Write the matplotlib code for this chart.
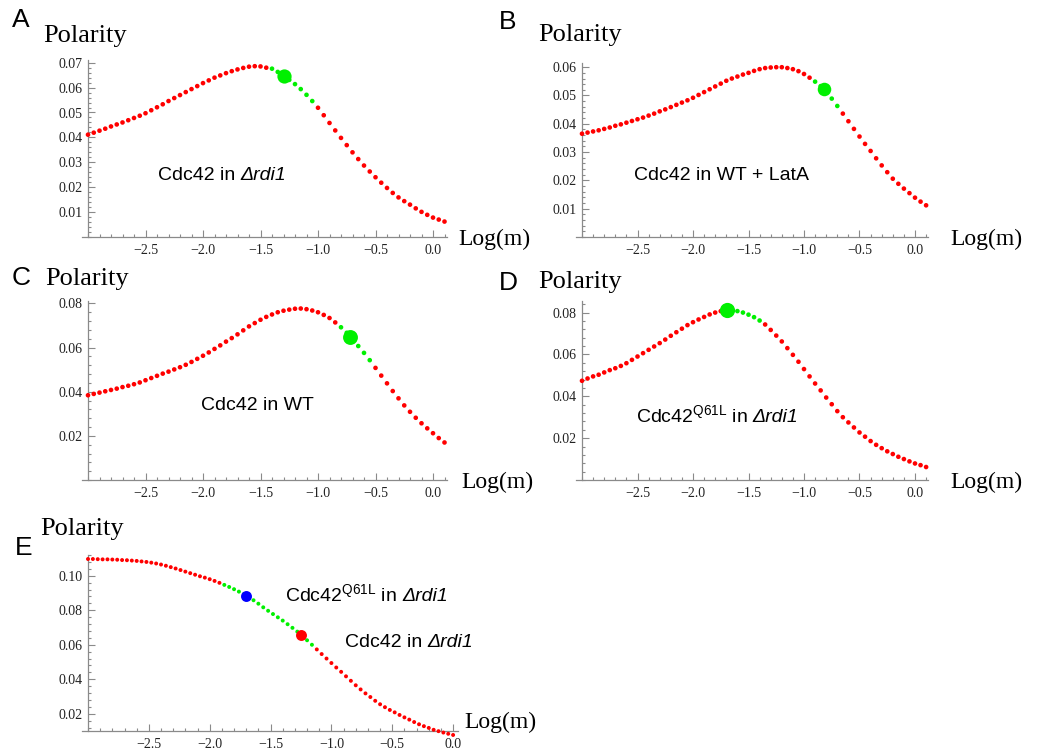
import matplotlib
matplotlib.use("Agg")
import matplotlib.pyplot as plt
from matplotlib.ticker import FixedLocator, MultipleLocator, FuncFormatter

plt.rcParams['font.family'] = ['Liberation Serif', 'DejaVu Serif']
plt.rcParams['mathtext.fontset'] = 'custom'
plt.rcParams['mathtext.rm'] = 'Liberation Sans'
plt.rcParams['mathtext.it'] = 'Liberation Sans:italic'

# ---------------- data ----------------
LOG_M = [-3.00, -2.95, -2.90, -2.85, -2.80, -2.75, -2.70, -2.65, -2.60, -2.55,
         -2.50, -2.45, -2.40, -2.35, -2.30, -2.25, -2.20, -2.15, -2.10, -2.05,
         -2.00, -1.95, -1.90, -1.85, -1.80, -1.75, -1.70, -1.65, -1.60, -1.55,
         -1.50, -1.45, -1.40, -1.35, -1.30, -1.25, -1.20, -1.15, -1.10, -1.05,
         -1.00, -0.95, -0.90, -0.85, -0.80, -0.75, -0.70, -0.65, -0.60, -0.55,
         -0.50, -0.45, -0.40, -0.35, -0.30, -0.25, -0.20, -0.15, -0.10, -0.05,
         0.00, 0.05, 0.10]

POL_A = [0.0411, 0.0419, 0.0427, 0.0435, 0.0444, 0.0452, 0.0460, 0.0469, 0.0478, 0.0487,
         0.0497, 0.0509, 0.0521, 0.0533, 0.0546, 0.0558, 0.0570, 0.0582, 0.0594, 0.0606,
         0.0618, 0.0629, 0.0640, 0.0649, 0.0658, 0.0666, 0.0673, 0.0679, 0.0684, 0.0686,
         0.0685, 0.0680, 0.0676, 0.0663, 0.0647, 0.0631, 0.0614, 0.0594, 0.0571, 0.0546,
         0.0519, 0.0489, 0.0458, 0.0428, 0.0398, 0.0369, 0.0340, 0.0313, 0.0287, 0.0263,
         0.0240, 0.0218, 0.0197, 0.0177, 0.0159, 0.0144, 0.0130, 0.0115, 0.0101, 0.0089,
         0.0078, 0.0070, 0.0062]

POL_B = [0.0365, 0.0369, 0.0373, 0.0377, 0.0382, 0.0387, 0.0393, 0.0398, 0.0404, 0.0410,
         0.0416, 0.0422, 0.0429, 0.0436, 0.0444, 0.0451, 0.0459, 0.0467, 0.0475, 0.0483,
         0.0492, 0.0502, 0.0512, 0.0522, 0.0532, 0.0542, 0.0552, 0.0560, 0.0567, 0.0574,
         0.0580, 0.0587, 0.0593, 0.0597, 0.0599, 0.0600, 0.0600, 0.0597, 0.0593, 0.0586,
         0.0576, 0.0563, 0.0549, 0.0533, 0.0514, 0.0489, 0.0463, 0.0436, 0.0409, 0.0382,
         0.0355, 0.0329, 0.0304, 0.0278, 0.0253, 0.0229, 0.0206, 0.0188, 0.0171, 0.0155,
         0.0139, 0.0125, 0.0112]

POL_C = [0.0384, 0.0390, 0.0396, 0.0402, 0.0408, 0.0414, 0.0421, 0.0427, 0.0434, 0.0442,
         0.0452, 0.0462, 0.0472, 0.0482, 0.0491, 0.0501, 0.0511, 0.0522, 0.0535, 0.0549,
         0.0563, 0.0578, 0.0594, 0.0610, 0.0627, 0.0643, 0.0660, 0.0678, 0.0696, 0.0711,
         0.0726, 0.0739, 0.0750, 0.0760, 0.0767, 0.0772, 0.0776, 0.0777, 0.0774, 0.0768,
         0.0760, 0.0748, 0.0734, 0.0714, 0.0692, 0.0667, 0.0637, 0.0607, 0.0576, 0.0543,
         0.0508, 0.0473, 0.0438, 0.0403, 0.0370, 0.0338, 0.0309, 0.0282, 0.0257, 0.0234,
         0.0212, 0.0190, 0.0170]

POL_D = [0.0474, 0.0485, 0.0495, 0.0503, 0.0514, 0.0525, 0.0534, 0.0545, 0.0558, 0.0574,
         0.0590, 0.0606, 0.0622, 0.0638, 0.0654, 0.0671, 0.0689, 0.0706, 0.0723, 0.0740,
         0.0754, 0.0767, 0.0779, 0.0791, 0.0800, 0.0807, 0.0811, 0.0811, 0.0807, 0.0800,
         0.0790, 0.0778, 0.0762, 0.0743, 0.0717, 0.0690, 0.0662, 0.0630, 0.0598, 0.0565,
         0.0530, 0.0495, 0.0461, 0.0428, 0.0394, 0.0362, 0.0329, 0.0300, 0.0275, 0.0251,
         0.0227, 0.0207, 0.0186, 0.0168, 0.0152, 0.0137, 0.0124, 0.0111, 0.0100, 0.0089,
         0.0079, 0.0071, 0.0062]

LOG_M_E = [-3.00, -2.96, -2.92, -2.88, -2.84, -2.80, -2.76, -2.72, -2.68, -2.64,
           -2.60, -2.56, -2.52, -2.48, -2.44, -2.40, -2.36, -2.32, -2.28, -2.24,
           -2.20, -2.16, -2.12, -2.08, -2.04, -2.00, -1.96, -1.92, -1.88, -1.84,
           -1.80, -1.76, -1.72, -1.68, -1.64, -1.60, -1.56, -1.52, -1.48, -1.44,
           -1.40, -1.36, -1.32, -1.28, -1.24, -1.20, -1.16, -1.12, -1.08, -1.04,
           -1.00, -0.96, -0.92, -0.88, -0.84, -0.80, -0.76, -0.72, -0.68, -0.64,
           -0.60, -0.56, -0.52, -0.48, -0.44, -0.40, -0.36, -0.32, -0.28, -0.24,
           -0.20, -0.16, -0.12, -0.08, -0.04, 0.00]

POL_E = [0.1097, 0.1097, 0.1096, 0.1095, 0.1095, 0.1094, 0.1093, 0.1091, 0.1090, 0.1088,
         0.1086, 0.1083, 0.1080, 0.1076, 0.1071, 0.1065, 0.1058, 0.1050, 0.1042, 0.1033,
         0.1024, 0.1015, 0.1006, 0.0997, 0.0989, 0.0980, 0.0970, 0.0959, 0.0947, 0.0935,
         0.0922, 0.0908, 0.0893, 0.0876, 0.0858, 0.0838, 0.0817, 0.0797, 0.0778, 0.0759,
         0.0740, 0.0719, 0.0698, 0.0676, 0.0652, 0.0626, 0.0600, 0.0573, 0.0546, 0.0520,
         0.0494, 0.0468, 0.0443, 0.0417, 0.0391, 0.0365, 0.0341, 0.0318, 0.0297, 0.0275,
         0.0255, 0.0238, 0.0222, 0.0208, 0.0193, 0.0179, 0.0166, 0.0152, 0.0139, 0.0128,
         0.0118, 0.0107, 0.0099, 0.0091, 0.0084, 0.0077]

# green (highlighted) ranges of log(m) and operating points
GREEN_A = (-1.40, -1.05)
GREEN_B = (-0.90, -0.70)
GREEN_C = (-0.80, -0.55)
GREEN_D = (-1.65, -1.40)
GREEN_E = (-1.88, -1.16)
POINT_A = (-1.30, 0.0647)
POINT_B = (-0.82, 0.0522)
POINT_C = (-0.72, 0.0648)
POINT_D = (-1.69, 0.0812)
POINT_E_Q61L = (-1.70, 0.0880)
POINT_E_WT = (-1.25, 0.0658)

X_MAJOR = [-2.5, -2.0, -1.5, -1.0, -0.5, 0.0]
Y_MAJOR_A = [0.01, 0.02, 0.03, 0.04, 0.05, 0.06, 0.07]
Y_MAJOR_B = [0.01, 0.02, 0.03, 0.04, 0.05, 0.06]
Y_MAJOR_C = [0.02, 0.04, 0.06, 0.08]
Y_MAJOR_D = [0.02, 0.04, 0.06, 0.08]
Y_MAJOR_E = [0.02, 0.04, 0.06, 0.08, 0.10]

# ---------------- figure ----------------
W, H = 1041, 756
fig = plt.figure(figsize=(W / 100, H / 100), dpi=100)
fig.patch.set_facecolor('white')
renderer = fig.canvas.get_renderer()

RED = '#ff0000'
GREEN = '#00f000'
BLUE = '#0000ff'
AXIS_COLOR = '#8a8a8a'
LABEL_COLOR = '#222222'


def fx(px):
    return px / W


def fy(py):
    return 1 - py / H


def make_axes(px_y_axis, py_x_axis, xunit, yunit, xlim, ylim):
    left = px_y_axis - (-3.0 - xlim[0]) * xunit
    width = (xlim[1] - xlim[0]) * xunit
    height = (ylim[1] - ylim[0]) * yunit
    ax = fig.add_axes([left / W, (H - py_x_axis) / H, width / W, height / H])
    ax.set_xlim(*xlim)
    ax.set_ylim(*ylim)
    ax.patch.set_alpha(0)
    for s in ('top', 'right'):
        ax.spines[s].set_visible(False)
    ax.spines['left'].set_position(('data', -3.0))
    for s in ('left', 'bottom'):
        ax.spines[s].set_color(AXIS_COLOR)
        ax.spines[s].set_linewidth(0.9)
    return ax


def style_ticks(ax, ymajor, yminor):
    ax.xaxis.set_major_locator(FixedLocator(X_MAJOR))
    ax.xaxis.set_minor_locator(MultipleLocator(0.1))
    ax.yaxis.set_major_locator(FixedLocator(ymajor))
    ax.yaxis.set_minor_locator(MultipleLocator(yminor))
    ax.xaxis.set_major_formatter(FuncFormatter(
        lambda v, p: f"{v:.1f}".replace('-', '\u2212')))
    ax.yaxis.set_major_formatter(FuncFormatter(lambda v, p: f"{v:.2f}"))
    ax.tick_params(which='both', direction='in', color=AXIS_COLOR, width=0.8)
    ax.tick_params(which='major', length=5)
    ax.tick_params(which='minor', length=2.5)
    ax.tick_params(axis='both', labelsize=10, labelcolor=LABEL_COLOR)
    ax.tick_params(axis='x', pad=5)
    ax.tick_params(axis='y', pad=4)
    for lab in ax.get_xticklabels() + ax.get_yticklabels():
        lab.set_family('Liberation Serif')


def draw_curve(ax, xs, ys, green, size):
    cols = [GREEN if green[0] - 1e-9 <= x <= green[1] + 1e-9 else RED for x in xs]
    ax.scatter(xs, ys, s=size, c=cols, linewidths=0, clip_on=False, zorder=3)


def labels(px_letter, py_letter, px_pol, py_pol, px_log, py_log, letter):
    fig.text(fx(px_letter), fy(py_letter), letter, family='Liberation Sans',
             fontsize=19, ha='center', va='center', color='black')
    fig.text(fx(px_pol), fy(py_pol), 'Polarity', fontsize=19,
             ha='left', va='baseline', color='black')
    fig.text(fx(px_log), fy(py_log), 'Log(m)', fontsize=17,
             ha='left', va='center', color='black')


SANS_SIZE = 14


def rich_text(px, py_baseline, upright, italic, ha='center'):
    """Upright part followed by an italic part, sharing one baseline."""
    t1 = fig.text(0, 0, upright, family='Liberation Sans', fontsize=SANS_SIZE,
                  ha='left', va='baseline', color='black')
    t2 = fig.text(0, 0, italic, family='Liberation Sans', fontstyle='italic',
                  fontsize=SANS_SIZE, ha='left', va='baseline', color='black')
    w1 = t1.get_window_extent(renderer).width
    w2 = t2.get_window_extent(renderer).width
    gap = 0.278 * SANS_SIZE * 100 / 72
    total = w1 + gap + w2
    x0 = px - total / 2 if ha == 'center' else px
    t1.set_position((fx(x0), fy(py_baseline)))
    t2.set_position((fx(x0 + w1 + gap), fy(py_baseline)))


# Panel A
axA = make_axes(88, 237, 115, 2490, (-3.05, 0.12), (0, 0.0712))
style_ticks(axA, Y_MAJOR_A, 0.002)
draw_curve(axA, LOG_M, POL_A, GREEN_A, 11)
axA.scatter(*POINT_A, s=105, c=GREEN, linewidths=0, zorder=4, clip_on=False)
labels(21, 20, 43, 42, 458, 239, 'A')
rich_text(222, 180, "Cdc42 in", "\u0394rdi1")

# Panel B
axB = make_axes(582, 237, 111, 2830, (-3.05, 0.12), (0, 0.0615))
style_ticks(axB, Y_MAJOR_B, 0.002)
draw_curve(axB, LOG_M, POL_B, GREEN_B, 11)
axB.scatter(*POINT_B, s=95, c=GREEN, linewidths=0, zorder=4, clip_on=False)
labels(508, 22, 538, 41, 950, 239, 'B')
fig.text(fx(722), fy(180), "Cdc42 in WT + LatA", family='Liberation Sans',
         fontsize=SANS_SIZE, ha='center', va='baseline', color='black')

# Panel C
axC = make_axes(88, 480, 115, 2207, (-3.05, 0.12), (0, 0.081))
style_ticks(axC, Y_MAJOR_C, 0.004)
draw_curve(axC, LOG_M, POL_C, GREEN_C, 11)
axC.scatter(*POINT_C, s=115, c=GREEN, linewidths=0, zorder=4, clip_on=False)
labels(21, 278, 45, 285, 461, 482, 'C')
fig.text(fx(257), fy(410), "Cdc42 in WT", family='Liberation Sans',
         fontsize=SANS_SIZE, ha='center', va='baseline', color='black')

# Panel D
axD = make_axes(582, 480, 111, 2093, (-3.05, 0.12), (0, 0.0855))
style_ticks(axD, Y_MAJOR_D, 0.004)
draw_curve(axD, LOG_M, POL_D, GREEN_D, 11)
axD.scatter(*POINT_D, s=120, c=GREEN, linewidths=0, zorder=4, clip_on=False)
labels(508, 283, 538, 288, 950, 482, 'D')
rich_text(717, 422, r"Cdc$\mathrm{42}^{\mathrm{Q61L}}$ in", "\u0394rdi1")

# Panel E
axE = make_axes(88, 731, 121.7, 1725, (-3.05, 0.04), (0.01, 0.112))
style_ticks(axE, Y_MAJOR_E, 0.004)
draw_curve(axE, LOG_M_E, POL_E, GREEN_E, 8)
axE.scatter(*POINT_E_Q61L, s=62, c=BLUE, linewidths=0, zorder=4, clip_on=False)
axE.scatter(*POINT_E_WT, s=62, c=RED, linewidths=0, zorder=4, clip_on=False)
labels(24, 548, 40, 535, 464, 722, 'E')
rich_text(285, 601, r"Cdc$\mathrm{42}^{\mathrm{Q61L}}$ in", "\u0394rdi1", ha='left')
rich_text(345, 647, "Cdc42 in", "\u0394rdi1", ha='left')

fig.savefig('out.png', dpi=100, facecolor='white')
